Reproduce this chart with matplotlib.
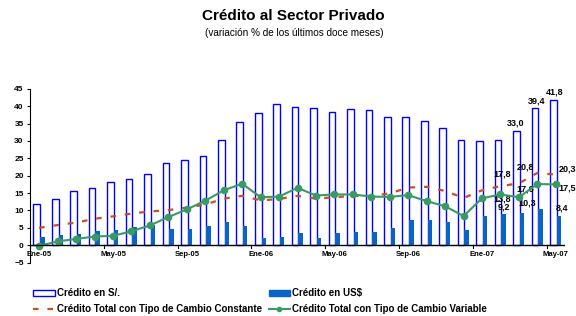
import numpy as np
import matplotlib.pyplot as plt
from matplotlib.lines import Line2D
from matplotlib.patches import Patch

plt.rcParams['font.family'] = ['Liberation Sans', 'DejaVu Sans']

# Datos (variación % de los últimos doce meses), Ene-05 a May-07
meses = ['Ene-05', 'Feb-05', 'Mar-05', 'Abr-05', 'May-05', 'Jun-05', 'Jul-05', 'Ago-05',
         'Sep-05', 'Oct-05', 'Nov-05', 'Dic-05', 'Ene-06', 'Feb-06', 'Mar-06', 'Abr-06',
         'May-06', 'Jun-06', 'Jul-06', 'Ago-06', 'Sep-06', 'Oct-06', 'Nov-06', 'Dic-06',
         'Ene-07', 'Feb-07', 'Mar-07', 'Abr-07', 'May-07']
credito_soles = [12.0, 13.2, 15.5, 16.6, 18.3, 19.1, 20.4, 23.6, 24.6, 25.7, 30.3, 35.5,
                 38.1, 40.5, 39.8, 39.5, 38.2, 39.1, 38.8, 36.8, 36.8, 35.8, 33.7, 30.4,
                 29.9, 30.4, 33.0, 39.4, 41.8]
credito_dolares = [2.5, 3.0, 3.1, 4.0, 4.4, 5.3, 5.7, 4.7, 4.7, 5.6, 6.7, 5.6,
                   2.2, 2.4, 3.5, 2.1, 3.5, 3.9, 3.8, 5.0, 7.2, 7.3, 6.6, 4.3,
                   8.3, 9.0, 9.2, 10.3, 8.4]
tc_constante = [5.0, 5.8, 6.5, 7.6, 8.3, 9.1, 9.7, 10.1, 10.8, 11.7, 13.4, 14.2,
                12.9, 13.3, 14.2, 13.4, 13.8, 14.2, 14.2, 14.9, 16.6, 16.8, 15.6, 13.6,
                15.8, 17.0, 17.8, 20.8, 20.3]
tc_variable = [-0.2, 1.1, 1.8, 2.5, 2.7, 4.0, 5.7, 8.1, 10.3, 12.8, 15.8, 17.7,
               13.8, 14.0, 16.5, 14.3, 14.6, 14.6, 14.0, 13.9, 14.4, 12.7, 11.2, 8.4,
               13.5, 14.6, 13.8, 17.6, 17.5]

x = np.arange(len(meses))

fig = plt.figure(figsize=(5.76, 3.16), dpi=100)
ax = fig.add_axes([0.052, 0.169, 0.929, 0.55])

# Barras
ax.bar(x - 0.13, credito_soles, width=0.36, facecolor='white', edgecolor='#0000FF',
       linewidth=1.0, zorder=2)
ax.bar(x + 0.17, credito_dolares, width=0.24, color='#0A64C8', zorder=2)

# Líneas
ax.plot(x, tc_constante, color='#C8501E', linestyle=(0, (2.5, 4)), linewidth=1.6, zorder=3)
ax.plot(x, tc_variable, color='#3A9A62', linewidth=1.5, marker='o', markersize=4.5, zorder=4)

# Ejes
ax.set_xlim(-0.5, len(meses) - 0.5)
ax.set_ylim(-5, 45)
ax.set_yticks(np.arange(-5, 46, 5))
ax.tick_params(axis='y', labelsize=6, length=2.5, width=0.8, pad=2)
for lbl in ax.get_yticklabels():
    lbl.set_fontweight('bold')

ax.spines['top'].set_visible(False)
ax.spines['right'].set_visible(False)
ax.spines['bottom'].set_position(('data', 0))
ax.spines['bottom'].set_visible(False)
ax.axhline(0, color='black', linewidth=1.0, zorder=5)

# marcas cada 4 meses en el límite izquierdo de la categoría, etiquetas en el centro
pos_etq = x[::4]
ax.set_xticks(pos_etq)
ax.set_xticklabels([meses[i] for i in pos_etq], fontsize=5.5, fontweight='bold')
ax.tick_params(axis='x', length=0, pad=4)
for p in pos_etq:
    ax.plot([p - 0.5, p - 0.5], [0, -0.8], color='black', linewidth=0.8, clip_on=False, zorder=5)

# Etiquetas de datos
kw = dict(fontsize=6.5, fontweight='bold', ha='center', va='center', clip_on=False)
ax.text(25.84, 35.2, '33,0', **kw)
ax.text(26.96, 41.6, '39,4', **kw)
ax.text(27.92, 44.1, '41,8', **kw)
ax.text(25.1, 20.4, '17,8', **kw)
ax.text(26.38, 22.4, '20,8', **kw)
ax.text(28.64, 21.8, '20,3', **kw)
ax.text(25.1, 13.2, '13,8', **kw)
ax.text(26.34, 16.3, '17,6', **kw)
ax.text(28.64, 16.6, '17,5', **kw)
ax.text(25.2, 11.0, '9,2', **kw)
ax.text(26.46, 12.1, '10,3', **kw)
ax.text(28.32, 10.7, '8,4', **kw)

# Títulos
fig.text(0.510, 0.950, 'Crédito al Sector Privado', fontsize=11, fontweight='bold',
         ha='center', va='center')
fig.text(0.510, 0.895, '(variación % de los últimos doce meses)', fontsize=7.2,
         ha='center', va='center')

# Leyenda
handles = [
    Patch(facecolor='white', edgecolor='#0000FF', linewidth=1.0),
    Line2D([], [], color='#C8501E', linestyle=(0, (2.5, 4)), linewidth=1.6),
    Patch(facecolor='#0A64C8', edgecolor='#0A64C8'),
    Line2D([], [], color='#3A9A62', linewidth=1.5, marker='o', markersize=3),
]
labels = ['Crédito en S/.', 'Crédito Total con Tipo de Cambio Constante',
          'Crédito en US$', 'Crédito Total con Tipo de Cambio Variable']
fig.legend(handles, labels, loc='lower left', bbox_to_anchor=(0.048, -0.012), ncol=2,
           frameon=False, prop={'size': 7, 'weight': 'bold'}, handlelength=2.2,
           handleheight=0.6, handletextpad=0.2, columnspacing=0.7, labelspacing=0.6,
           borderaxespad=0.2)

fig.savefig('out.png', dpi=100)
